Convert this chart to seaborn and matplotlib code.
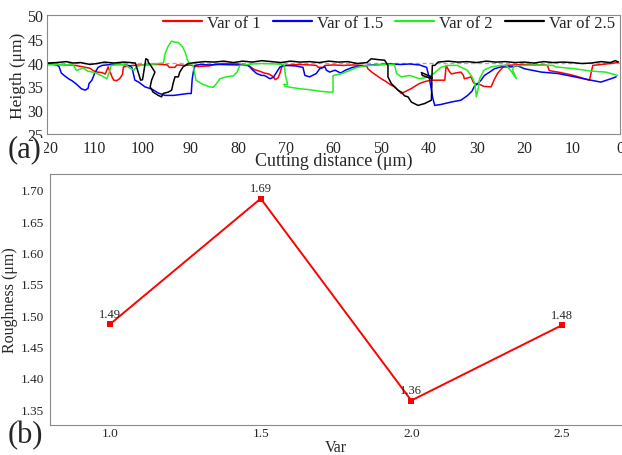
import matplotlib
matplotlib.use('Agg')
import matplotlib.pyplot as plt
import matplotlib.patches as mpatches
import seaborn as sns

# surface profiles: cutting distance (um) and height (um)
var1_x = [120, 118, 116, 114, 113, 112, 111, 110.3, 109.5, 108.5, 107.8, 107.2, 106.8, 106.3, 106.0, 105.4,
          104.8, 104.2, 104.0, 102, 100, 98, 96, 94.8, 94.4, 93.2, 92.8, 91, 90, 89, 88, 86, 85, 83, 80, 78,
          77.3, 76.5, 75.5, 74.5, 73.5, 72.6, 72.2, 71.6, 71.2, 70.8, 69, 67, 65, 63.6, 63.2, 62.2, 61.8, 60,
          58, 56, 54, 53, 52.8, 52.0, 51, 50, 49, 48, 47.2, 46.5, 45.8, 45.2, 44.4, 43.6, 43.0, 42, 40.9,
          39.5, 38, 36.7, 36.4, 35.8, 35.3, 34.5, 33.3, 32.8, 32.6, 31.8, 31.2, 30.8, 30.5, 29.4, 28.5, 27.0,
          26.3, 25.6, 24.2, 22, 20, 18, 16, 15.2, 14.8, 13, 11, 9, 7.5, 6.4, 5.7, 4, 2, 0.5]
var1_y = [39.7, 39.6, 39.5, 39.4, 39.2, 39.0, 38.8, 38.3, 38.0, 37.9, 37.6, 39.1, 38.0, 36.8, 36.3, 36.2,
          36.6, 37.5, 39.1, 39.4, 39.5, 39.6, 39.6, 39.5, 39.0, 39.0, 39.5, 39.4, 39.5, 39.2, 39.2, 39.3, 39.6,
          39.8, 39.7, 39.5, 39.0, 38.5, 38.2, 37.8, 37.6, 37.0, 36.4, 36.8, 37.8, 39.3, 39.5, 39.6, 39.5, 39.4,
          39.0, 39.0, 39.4, 39.5, 39.4, 39.5, 39.4, 39.2, 38.7, 38.0, 37.3, 36.6, 36.0, 35.3, 34.9, 34.2, 33.5,
          33.8, 34.2, 34.6, 35.0, 35.6, 36.0, 36.3, 36.3, 36.3, 39.4, 38.2, 37.6, 37.8, 38.0, 37.3, 36.6, 36.8,
          37.0, 36.0, 35.6, 35.4, 35.0, 34.9, 36.5, 37.8, 39.4, 39.5, 39.6, 39.5, 39.5, 39.4, 38.3, 38.0, 37.6,
          37.1, 36.6, 36.3, 39.4, 39.6, 39.8, 40.0]

var15_x = [120, 118, 117.5, 117, 116.3, 115.5, 114.8, 114, 112.8, 112.0, 111.4, 111.2, 110.6, 110, 109.3,
           108.5, 106.5, 104, 102.6, 102.2, 101.6, 100.8, 99.5, 98.0, 96.7, 95.3, 93.5, 92.0, 90.5, 89.8, 89.6,
           89.3, 89.0, 88, 86, 84, 80, 78, 77.5, 77.0, 76.1, 75.1, 74.5, 73.3, 72.6, 71.9, 71.2, 70, 68, 66.4,
           66.0, 65.0, 63.6, 62.9, 61.8, 61.5, 60.8, 59.7, 58.5, 57.5, 56, 54, 52, 50, 48, 46, 44, 42, 40.5,
           39.9, 39.2, 38.8, 37.5, 35.4, 33.3, 31.9, 31.0, 30.5, 29.8, 29.1, 28.4, 27.3, 26.3, 24.9, 22.8, 21.4,
           20.0, 16.5, 13.0, 9.5, 6.1, 4.0, 1.9, 0.8]
var15_y = [39.8, 39.5, 39.2, 37.8, 37.2, 36.6, 36.2, 35.6, 34.5, 34.2, 34.6, 35.6, 36.3, 37.8, 39.0, 39.4,
           39.6, 39.6, 39.3, 38.9, 36.3, 35.9, 34.9, 34.4, 33.6, 33.1, 33.1, 33.3, 33.5, 33.5, 36.5, 38.4, 39.4,
           39.6, 39.5, 39.6, 39.5, 39.4, 39.1, 38.5, 37.7, 37.3, 37.3, 36.6, 36.9, 38.0, 39.1, 39.4, 39.3, 39.0,
           37.3, 37.0, 37.7, 38.7, 39.1, 38.4, 38.0, 38.4, 37.8, 38.4, 39.0, 39.3, 39.5, 39.6, 39.7, 39.6, 39.7,
           39.5, 39.0, 36.6, 32.5, 31.0, 31.2, 31.7, 32.1, 33.1, 34.0, 35.0, 35.6, 36.3, 37.3, 38.0, 38.7, 39.1,
           39.1, 39.3, 38.7, 38.0, 37.7, 37.0, 36.3, 35.9, 36.6, 37.0]

var2_x = [120, 117, 114.5, 113.8, 112.5, 111.5, 110, 108.5, 107.5, 107.0, 106.6, 105, 103.5, 102.8, 101.8,
          101.2, 99.5, 97.5, 95.6, 95.3, 94.6, 93.9, 93.4, 92.5, 91.6, 91.0, 90.6, 90.2, 89.4, 88.8, 87.5,
          86.0, 85.2, 84.5, 83.8, 82.5, 81.0, 80.2, 79.6, 77, 75, 72, 70.4, 70.0, 69.6, 70.4, 70.2, 69.0, 67.0,
          65.0, 63.0, 61.0, 60.1, 60.1, 58.5, 56.5, 55.0, 53.5, 51.0, 49.0, 47.2, 46.8, 45.8, 44.0, 42.0, 40.0,
          39.0, 37.5, 36.0, 34.0, 32.0, 31.0, 30.4, 30.1, 29.7, 29.4, 28.5, 27.0, 25.0, 23.8, 22.8, 21.7, 22.5,
          22.2, 18, 14, 13.5, 9.5, 6.0, 3.0, 0.5]
var2_y = [39.5, 39.6, 39.5, 38.3, 38.9, 38.2, 37.9, 37.2, 36.6, 37.8, 39.4, 39.6, 39.5, 38.9, 38.4, 39.2,
          39.6, 39.7, 39.9, 41.8, 43.5, 44.5, 44.3, 44.2, 43.3, 42.0, 40.5, 39.9, 39.4, 36.3, 35.5, 34.9, 34.8,
          35.6, 36.6, 37.0, 37.2, 38.0, 39.4, 39.7, 39.8, 39.7, 39.6, 37.0, 35.4, 35.4, 35.0, 34.8, 34.5, 34.3,
          34.0, 33.8, 33.8, 37.3, 37.6, 38.4, 39.0, 39.3, 39.5, 39.6, 39.5, 37.7, 37.0, 37.3, 36.6, 37.0, 37.7,
          39.0, 39.4, 39.4, 38.4, 37.0, 35.6, 32.8, 34.5, 36.6, 38.4, 39.1, 39.4, 39.4, 38.2, 36.6, 38.5, 39.3,
          39.5, 39.4, 39.1, 38.7, 38.2, 38.0, 37.3]

var25_x = [120, 118, 116, 114.5, 113, 111, 109.5, 108, 106, 104, 102.5, 101.5, 100.4, 100.0, 99.3, 98.9,
           98.8, 98.1, 97.4, 98.1, 98.4, 97.8, 96.7, 96.0, 95.7, 94.6, 93.9, 93.6, 93.2, 92.5, 92.2, 91.5,
           90.4, 89, 87, 85, 83, 81, 79, 77, 75, 73, 71, 69, 67, 65, 63, 61, 59, 57, 55, 53, 52.1, 50.5, 49.3,
           48.6, 48.6, 47.9, 47.2, 46.5, 45.8, 45.1, 44.4, 43.7, 42.3, 40.9, 39.5, 39.4, 39.5, 41.6, 41.4, 39.4,
           39.3, 38.8, 38.1, 36, 34, 32, 30, 28, 26, 24, 22, 20, 18, 16, 14, 12, 10, 8, 6, 4, 2, 1, 0.3]
var25_y = [39.9, 40.0, 40.2, 39.9, 40.0, 39.6, 39.8, 40.1, 39.9, 40.1, 40.0, 39.9, 36.3, 36.4, 40.8, 40.6,
           40.1, 39.1, 38.0, 36.3, 34.9, 33.8, 33.1, 32.8, 33.5, 33.8, 34.2, 35.6, 37.0, 37.0, 38.0, 39.1,
           39.8, 40.0, 40.2, 40.1, 40.3, 40.0, 40.3, 40.1, 40.4, 40.2, 40.0, 40.3, 40.1, 40.2, 40.0, 40.3, 40.1,
           40.2, 39.8, 40.0, 40.8, 40.6, 40.5, 39.4, 37.0, 35.6, 34.9, 34.2, 33.8, 33.0, 32.8, 31.7, 31.0, 31.4,
           32.1, 35.6, 37.0, 37.9, 37.3, 36.6, 39.4, 39.4, 40.1, 40.3, 40.1, 40.2, 40.0, 40.3, 40.1, 40.2, 40.0,
           40.1, 39.9, 40.2, 40.0, 40.1, 40.0, 39.8, 39.9, 40.2, 40.0, 40.4, 40.1]

# roughness vs. var
var_levels = [1.0, 1.5, 2.0, 2.5]
roughness = [1.486, 1.686, 1.364, 1.484]
roughness_labels = ['1.49', '1.69', '1.36', '1.48']

sns.set_style('white')
plt.rcParams['font.family'] = ['Liberation Serif', 'DejaVu Serif']
spine_col = '#8a8a8a'

fig = plt.figure(figsize=(6.22, 4.56), dpi=100)
ax1 = fig.add_axes([0.0756, 0.704, 0.9212, 0.261])
ax2 = fig.add_axes([0.0804, 0.0658, 0.9196, 0.5502])

profiles = [(var1_x, var1_y, 'Var of 1', '#ff0000'),
            (var15_x, var15_y, 'Var of 1.5', '#0000ff'),
            (var2_x, var2_y, 'Var of 2', '#22ee22'),
            (var25_x, var25_y, 'Var of 2.5', '#000000')]
ax1.axhline(40, color='#aaaaaa', lw=1, ls=(0, (3, 2)), zorder=0)
for xs, ys, lab, col in profiles:
    sns.lineplot(x=xs, y=ys, sort=False, estimator=None, color=col, lw=1.1, label=lab, ax=ax1)

ax1.set_xlim(120, 0)
ax1.set_ylim(25, 50)
ax1.set_xticks(range(120, -1, -10))
ax1.set_yticks([25, 30, 35, 40, 45, 50])
ax1.tick_params(axis='both', direction='in', length=3, color=spine_col, labelsize=11.5, pad=2.5)
ax1.tick_params(axis='x', pad=4)
for s in ax1.spines.values():
    s.set_color(spine_col)
ax1.set_xlabel('Cutting distance (μm)', fontsize=13, labelpad=-2.5)
ax1.set_ylabel('Heigth (μm)', fontsize=12.5, labelpad=1)
leg = ax1.legend(loc='upper right', ncol=4, frameon=False, fontsize=12, handlelength=2.35,
                 handletextpad=0.3, columnspacing=0.72, borderaxespad=0, borderpad=0.3,
                 bbox_to_anchor=(1.0, 1.04))
for h in leg.get_lines():
    h.set_linewidth(1.6)

# white patch hiding the "1" of the 120 label, as in the source figure
fig.patches.append(mpatches.Rectangle((0.053, 0.658), 0.018, 0.037, transform=fig.transFigure,
                                      facecolor='white', edgecolor='none', zorder=5))
fig.text(0.013, 0.672, '(a)', fontsize=22, va='center', ha='left', zorder=6)

sns.lineplot(x=var_levels, y=roughness, sort=False, color='#ff0000', lw=1.4, marker='s',
             markersize=5, markeredgewidth=0, ax=ax2)
for xv, yv, lab in zip(var_levels, roughness, roughness_labels):
    ax2.annotate(lab, (xv, yv), xytext=(0, 3), textcoords='offset points', ha='center',
                 va='bottom', fontsize=9)
ax2.set_xlim(0.8, 2.7)
ax2.set_ylim(1.325, 1.725)
ax2.set_xticks(var_levels)
ax2.set_xticklabels([f'{v:.1f}' for v in var_levels])
ytk = [1.35, 1.40, 1.45, 1.50, 1.55, 1.60, 1.65, 1.70]
ax2.set_yticks(ytk)
ax2.set_yticklabels([f'{v:.2f}' for v in ytk])
ax2.tick_params(axis='y', direction='out', length=3, color=spine_col, labelsize=9.5, pad=1.5)
ax2.tick_params(axis='x', direction='in', length=4, color=spine_col, labelsize=9.5, pad=1.5)
for s in ax2.spines.values():
    s.set_color(spine_col)
ax2.spines['right'].set_visible(False)
ax2.set_xlabel('Var', fontsize=11.5, labelpad=0)
ax2.set_ylabel('Roughness (μm)', fontsize=11.5, labelpad=2)
fig.text(0.013, 0.044, '(b)', fontsize=22, va='center', ha='left')

fig.savefig('out.png', dpi=100)
